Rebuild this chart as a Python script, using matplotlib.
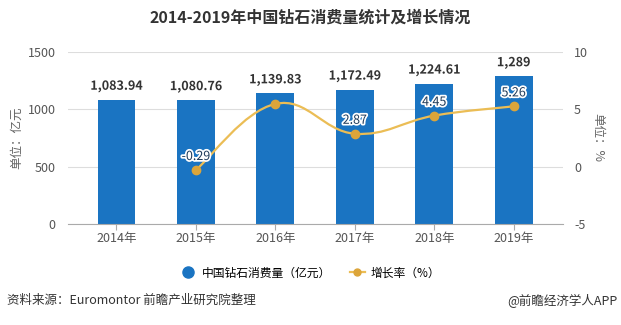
import matplotlib

matplotlib.use("Agg")
import matplotlib.pyplot as plt
import matplotlib.patheffects as pe
from matplotlib.path import Path
from matplotlib.patches import PathPatch
from matplotlib.lines import Line2D
import numpy as np

plt.rcParams["font.family"] = ["Noto Sans CJK SC", "DejaVu Sans"]
plt.rcParams["axes.unicode_minus"] = False

years = ["2014年", "2015年", "2016年", "2017年", "2018年", "2019年"]
consumption = [1083.94, 1080.76, 1139.83, 1172.49, 1224.61, 1289]
consumption_labels = ["1,083.94", "1,080.76", "1,139.83", "1,172.49", "1,224.61", "1,289"]
growth = [None, -0.29, 5.47, 2.87, 4.45, 5.26]
growth_labels = [None, "-0.29", None, "2.87", "4.45", "5.26"]

BAR_COLOR = "#1a74c2"
LINE_COLOR = "#ebbd55"
DOT_COLOR = "#dca53a"
TICK_COLOR = "#555555"


def smooth_path(xs, ys, k=0.2):
    # bezier through the points, control points from neighbour slopes
    pts = list(zip(xs, ys))
    verts = [pts[0]]
    codes = [Path.MOVETO]
    n = len(pts)
    for i in range(n - 1):
        p0 = pts[i - 1] if i > 0 else pts[i]
        p1 = pts[i]
        p2 = pts[i + 1]
        p3 = pts[i + 2] if i + 2 < n else pts[i + 1]
        c1 = (p1[0] + k * (p2[0] - p0[0]), p1[1] + k * (p2[1] - p0[1]))
        c2 = (p2[0] - k * (p3[0] - p1[0]), p2[1] - k * (p3[1] - p1[1]))
        verts += [c1, c2, p2]
        codes += [Path.CURVE4] * 3
    return Path(verts, codes)


fig = plt.figure(figsize=(6.21, 3.25), dpi=100)
ax = fig.add_axes([0.1095, 0.311, 0.797, 0.529])
ax2 = ax.twinx()

x = np.arange(len(years))
ax.bar(x, consumption, width=0.475, color=BAR_COLOR, zorder=2)
ax.set_ylim(0, 1500)
ax.set_yticks([0, 500, 1000, 1500])
ax.set_xlim(-0.61, 5.62)
ax.set_xticks(x)
ax.set_xticklabels(years)
ax.yaxis.grid(True, color="#dddddd", linewidth=0.8)
ax.set_axisbelow(True)
for s in ["top", "right", "left"]:
    ax.spines[s].set_visible(False)
ax.spines["bottom"].set_color("#aaaaaa")
ax.tick_params(axis="x", colors="#aaaaaa", length=4, labelcolor=TICK_COLOR, labelsize=9, pad=2)
ax.tick_params(axis="y", length=0, labelcolor=TICK_COLOR, labelsize=9, pad=9)
ax.set_ylabel("单位：亿元", color="#666666", fontsize=9, labelpad=3)

stroke = [pe.withStroke(linewidth=2.5, foreground="white")]
for xi, v, lab in zip(x, consumption, consumption_labels):
    ax.annotate(lab, (xi, v), xytext=(0, 5), textcoords="offset points", ha="center", va="bottom",
                fontsize=9, fontweight="bold", color="#333333", path_effects=stroke, zorder=5)

gx = [xi for xi, g in zip(x, growth) if g is not None]
gy = [g for g in growth if g is not None]
ax2.add_patch(PathPatch(smooth_path(gx, gy), facecolor="none", edgecolor=LINE_COLOR, linewidth=1.6, zorder=3))
ax2.plot(gx, gy, "o", color=DOT_COLOR, markersize=6, zorder=4)
for xi, g, lab in zip(x, growth, growth_labels):
    if lab is None:
        continue
    ax2.annotate(lab, (xi, g), xytext=(0, 5), textcoords="offset points", ha="center", va="bottom",
                 fontsize=9, color="#1f3b5a", path_effects=stroke, zorder=6)
ax2.set_ylim(-5, 10)
ax2.set_yticks([-5, 0, 5, 10])
for s in ["top", "right", "left", "bottom"]:
    ax2.spines[s].set_visible(False)
ax2.tick_params(axis="y", length=0, labelcolor=TICK_COLOR, labelsize=9, pad=8)
ax2.set_ylabel("单位：%", color="#666666", fontsize=9, rotation=-90, labelpad=12)

fig.text(0.5, 0.945, "2014-2019年中国钻石消费量统计及增长情况", ha="center", va="center",
         fontsize=11.5, fontweight="bold", color="#333333")

handles = [
    Line2D([], [], marker="o", linestyle="none", color=BAR_COLOR, markersize=8),
    Line2D([], [], marker="o", color=LINE_COLOR, markerfacecolor=DOT_COLOR, markeredgecolor=DOT_COLOR,
           markersize=5, linewidth=1.6),
]
fig.legend(handles, ["中国钻石消费量（亿元）", "增长率（%）"], loc="center", bbox_to_anchor=(0.5, 0.16),
           ncol=2, frameon=False, fontsize=8.5, handlelength=1.3, columnspacing=1.6, handletextpad=0.5)

fig.text(0.012, 0.075, "资料来源：Euromontor 前瞻产业研究院整理", ha="left", va="center", fontsize=9, color="#333333")
fig.text(0.995, 0.075, "@前瞻经济学人APP", ha="right", va="center", fontsize=9, color="#333333")

fig.savefig("out.png", dpi=100)
plt.close(fig)
